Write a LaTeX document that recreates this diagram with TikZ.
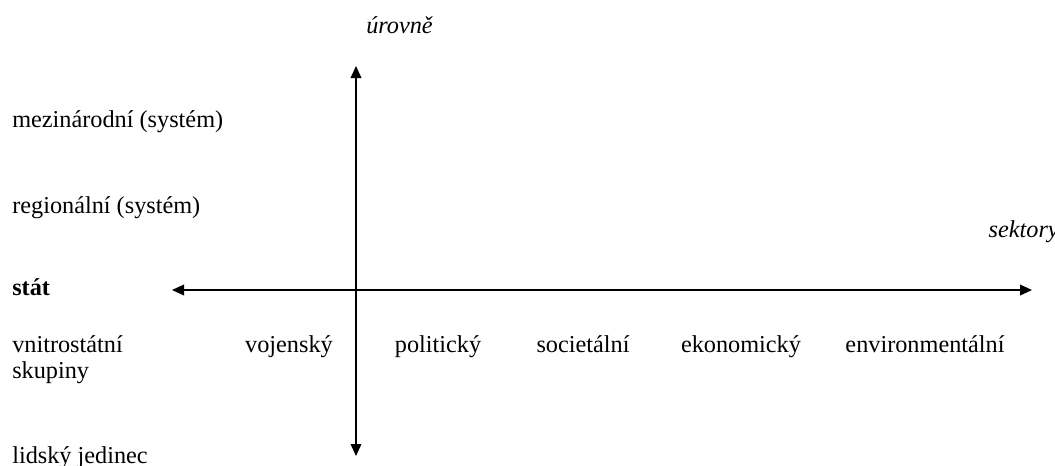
\documentclass[tikz,border=0pt]{standalone}
\usepackage{fontspec}
\setmainfont{Liberation Serif}
\usetikzlibrary{arrows.meta}
\begin{document}
\begin{tikzpicture}[x=0.75pt,y=-0.75pt,
  lbl/.style={inner sep=0pt,font=\fontsize{18.2}{19.5}\selectfont},
  axis/.style={line width=1.1pt,{Triangle[length=9pt,width=8pt]}-{Triangle[length=9pt,width=8pt]}}]
\useasboundingbox (0,0) rectangle (1055,465);
\coordinate (top) at (356,66);
\coordinate (bottom) at (356,456);
\coordinate (left) at (172,290);
\coordinate (right) at (1032,290);
\draw[axis] (top) -- (bottom);
\draw[axis] (left) -- (right);
\node[lbl,anchor=base west,font=\fontsize{18.2}{19.5}\selectfont\itshape] (urovne) at (366,33) {úrovně};
\node[lbl,anchor=base east,font=\fontsize{18.2}{19.5}\selectfont\itshape] (sektory) at (1059,237) {sektory};
\node[lbl,anchor=base west] (mez) at (12,127) {mezinárodní (systém)};
\node[lbl,anchor=base west] (reg) at (12,213) {regionální (systém)};
\node[lbl,anchor=base west,font=\fontsize{18.2}{19.5}\selectfont\bfseries] (stat) at (12,295) {stát};
\node[lbl,anchor=base west] (vnitro) at (12,352) {vnitrostátní};
\node[lbl,anchor=base west] (skup) at (12,378) {skupiny};
\node[lbl,anchor=base west] (lidsky) at (12,463) {lidský jedinec};
\node[lbl,anchor=base] (voj) at (289,352) {vojenský};
\node[lbl,anchor=base] (pol) at (438,352) {politický};
\node[lbl,anchor=base] (soc) at (583,352) {societální};
\node[lbl,anchor=base] (eko) at (741,352) {ekonomický};
\node[lbl,anchor=base] (env) at (925,352) {environmentální};
\end{tikzpicture}
\end{document}
